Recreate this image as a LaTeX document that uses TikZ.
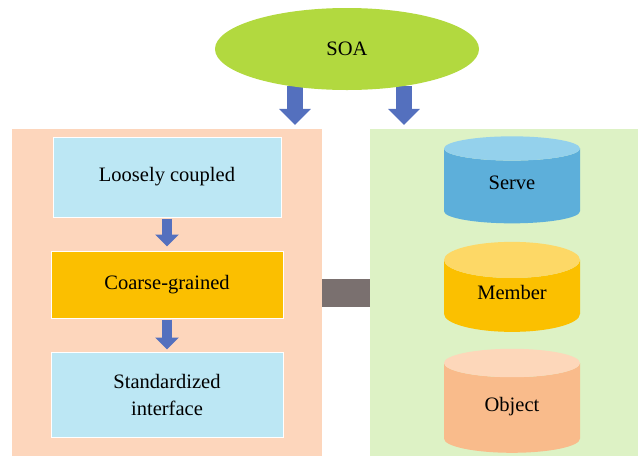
\documentclass[tikz,border=0pt]{standalone}
\usepackage{fontspec}
\setmainfont{Liberation Serif}
\usetikzlibrary{shapes.geometric,arrows.meta,backgrounds}

\definecolor{soagreen}{RGB}{178,217,63}
\definecolor{arrowblue}{RGB}{84,112,190}
\definecolor{peach}{RGB}{253,214,188}
\definecolor{palegreen}{RGB}{221,242,197}
\definecolor{paleblue}{RGB}{188,231,244}
\definecolor{amber}{RGB}{251,191,0}
\definecolor{linkgray}{RGB}{122,112,111}
\definecolor{serveside}{RGB}{93,175,218}
\definecolor{servetop}{RGB}{148,209,236}
\definecolor{memberside}{RGB}{251,192,0}
\definecolor{membertop}{RGB}{253,216,102}
\definecolor{objectside}{RGB}{249,187,139}
\definecolor{objecttop}{RGB}{253,215,186}

\tikzset{%
	labelfont/.style={font=\fontsize{20.5}{27}\selectfont},
	panel/.style={draw=none, inner sep=0pt, minimum height=327pt},
	featurebox/.style={labelfont, draw=white, line width=1pt, inner sep=0pt, align=center},
	store/.style={labelfont, cylinder, shape border rotate=90, aspect=0.52,
		cylinder uses custom fill, minimum width=136pt, inner sep=0pt,
		text height=10pt, text depth=4pt},
	bigarrow/.style={draw=arrowblue, line width=16pt, -{Triangle[width=31pt,length=16pt]}},
	smallarrow/.style={draw=arrowblue, line width=10pt, -{Triangle[width=23pt,length=12pt]}},
}

\begin{document}
\begin{tikzpicture}[x=1pt, y=-1pt]
\useasboundingbox (0,0) rectangle (638,456);

% the two panels and the bar between them
\node [panel, fill=peach, minimum width=310pt] (left) at (167,292.5) {};
\node [panel, fill=palegreen, minimum width=268pt] (right) at (504,292.5) {};
\draw [linkgray, line width=28pt] (left.east) -- (right.west);

% left column
\node [featurebox, fill=paleblue, minimum width=228pt, minimum height=80pt] (loose) at (167,177) {Loosely coupled};
\node [featurebox, fill=amber, minimum width=232pt, minimum height=67pt] (coarse) at (167,284.5) {Coarse-grained};
\node [featurebox, fill=paleblue, minimum width=232pt, minimum height=85pt] (standard) at (167,394.5) {Standardized\\interface};

\draw [smallarrow, shorten <=1pt, shorten >=4pt] (loose) -- (coarse);
\draw [smallarrow, shorten <=1pt, shorten >=2pt] (coarse) -- (standard);

% right column
\node [store, cylinder body fill=serveside, cylinder end fill=servetop, minimum height=87pt] (serve) at (512,186) {Serve};
\node [store, cylinder body fill=memberside, cylinder end fill=membertop, minimum height=90pt] (member) at (512,296) {Member};
\node [store, cylinder body fill=objectside, cylinder end fill=objecttop, minimum height=104pt] (object) at (512,408) {Object};

% top
\node [ellipse, fill=soagreen, labelfont, minimum width=264pt, minimum height=82pt, inner sep=0pt] (soa) at (347,49) {SOA};

\begin{pgfonlayer}{background}
\foreach \dx in {-52,57}
\draw [bigarrow, shorten <=-4pt, shorten >=4pt] ([xshift=\dx pt]soa.south) -- ([xshift=\dx pt]soa.south |- left.north);
\end{pgfonlayer}

\end{tikzpicture}
\end{document}
